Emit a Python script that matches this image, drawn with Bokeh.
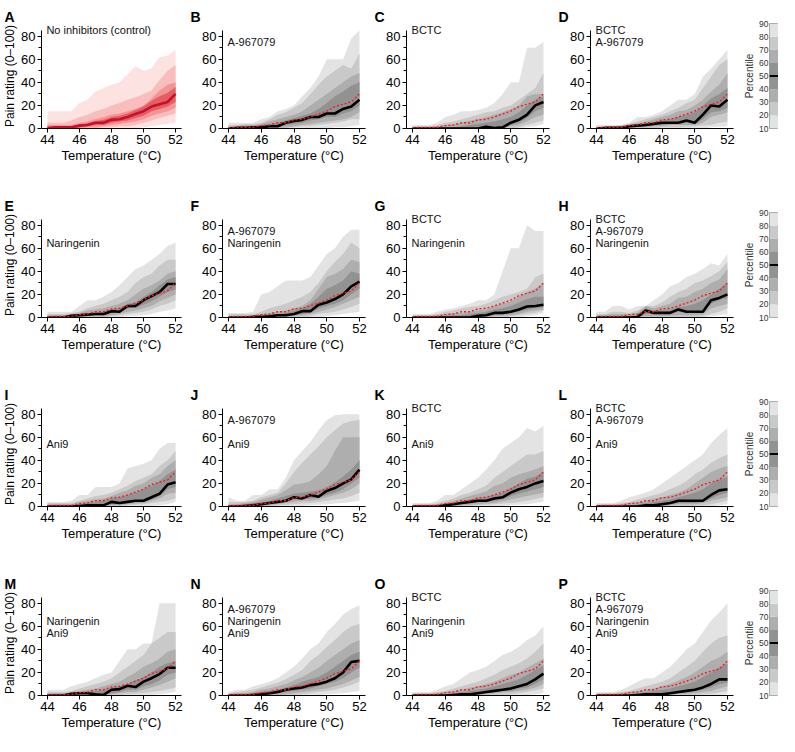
from bokeh.plotting import figure
from bokeh.layouts import column, row
from bokeh.models import Range1d, FixedTicker, Label, Span, Title
from bokeh.embed import file_html
from bokeh.resources import INLINE

FONT = "Liberation Sans"

temps = [44.0, 44.5, 45.0, 45.5, 46.0, 46.5, 47.0, 47.5, 48.0, 48.5, 49.0, 49.5, 50.0, 50.5, 51.0, 51.5, 52.0]

# percentile curves (10..90) per panel
A = dict(
    p10=[0, 0, 0, 0, 0, 0, 0, 0, 0, 0, 0, 0, 1, 2, 3, 4, 5],
    p20=[0, 0, 0, 0, 0, 0, 0, 1, 1, 2, 2, 3, 5, 7, 9, 11, 13],
    p30=[0, 0, 0, 0, 0, 1, 1, 2, 3, 4, 5, 6, 8, 11, 13, 15, 18],
    p40=[0, 0, 0, 0, 1, 2, 3, 3, 5, 6, 7, 9, 11, 15, 17, 19, 23],
    p50=[0.5, 1, 1, 1, 2.5, 3, 5, 5, 7.5, 8, 10, 12.5, 15, 19, 21, 23, 30],
    p60=[1, 1.5, 2, 2, 3.5, 4.5, 6.5, 7.5, 10, 11, 13, 16, 19, 24, 28, 31, 36],
    p70=[3, 3, 3, 3, 5, 6, 8, 10, 12, 13, 15, 17, 20, 26, 33, 38, 40],
    p80=[5, 5, 5, 7, 10, 12, 15, 17, 20, 22, 25, 27, 30, 33, 42, 50, 55],
    p90=[15, 15, 15, 15, 22, 25, 32, 35, 38, 40, 47, 54, 50, 52, 62, 63, 68],
)
B = dict(
    p10=[0, 0, 0, 0, 0, 0, 0, 0, 0, 0, 0, 0, 0, 1, 1, 2, 3],
    p20=[0, 0, 0, 0, 0, 0, 0, 0.5, 1, 2, 2, 3, 4, 5, 6, 8, 8],
    p30=[0, 0, 0, 0, 0, 0.5, 0.5, 1, 2, 3, 4, 5, 6, 7, 8, 10, 14],
    p40=[0, 0, 0, 0.5, 0.5, 1, 1, 3, 4, 5, 7, 8, 10, 10, 13, 15, 20],
    p50=[0, 0.5, 0.5, 1, 1, 2, 2, 5, 6.5, 7.5, 10, 10, 13, 13, 17, 19, 25],
    p60=[1, 1, 2, 2, 3, 4, 5, 7, 9, 11, 13, 17, 22, 28, 32, 37, 40],
    p70=[2, 2, 3, 3, 4, 6, 8, 10, 12, 15, 20, 25, 30, 35, 40, 45, 48],
    p80=[3, 3, 4, 4, 5, 8, 12, 14, 18, 22, 30, 38, 45, 50, 55, 52, 65],
    p90=[5, 5, 5, 5, 8, 10, 15, 17, 20, 28, 35, 45, 60, 60, 60, 78, 85],
)
C = dict(
    p10=[0, 0, 0, 0, 0, 0, 0, 0, 0, 0, 0, 0, 0, 0, 1, 2, 4],
    p20=[0, 0, 0, 0, 0, 0, 0, 0, 0, 0, 0, 0, 0, 1, 3, 5, 7],
    p30=[0, 0, 0, 0, 0, 0, 0, 0, 0, 0, 0, 0, 2, 3, 6, 10, 12],
    p40=[0, 0, 0, 0, 0, 0, 0, 0, 0, 1, 0, 0.5, 3, 5, 9, 15, 18],
    p50=[0, 0, 0, 0, 0, 0, 0, 0, 0, 1.5, 0.5, 1, 5, 7.5, 12, 20, 23],
    p60=[0.5, 0.5, 0.5, 0.5, 1, 1, 2, 3, 4, 5, 6, 8, 10, 14, 20, 25, 28],
    p70=[1, 1, 1, 2, 3, 4, 5, 7, 8, 10, 12, 14, 17, 20, 28, 30, 30],
    p80=[2, 2, 2, 3, 5, 6, 8, 10, 12, 14, 15, 18, 20, 25, 30, 35, 48],
    p90=[3, 3, 3, 5, 10, 12, 15, 15, 16, 18, 22, 30, 40, 40, 70, 70, 75],
)
D = dict(
    p10=[0, 0, 0, 0, 0, 0, 0, 0, 0, 0, 0, 0, 0, 0, 1, 1.5, 2],
    p20=[0, 0, 0, 0, 0, 0, 0, 0, 1, 1, 1, 1.5, 2, 2.5, 3, 5, 6],
    p30=[0, 0, 0, 0, 0, 1, 1, 2, 2, 3, 3, 3, 3, 5, 10, 12, 14],
    p40=[0, 0, 0, 0, 1, 1.5, 2, 3, 3, 4, 4, 5, 4, 8, 14, 15, 18],
    p50=[0, 0.5, 0.5, 0.5, 2, 2.5, 3, 4, 5, 5, 5, 7, 5, 12, 20, 19, 25],
    p60=[0.5, 1, 1, 1, 3, 3.5, 4.5, 5.5, 7, 8, 10, 12, 14, 20, 26, 30, 35],
    p70=[1, 1, 1, 2, 3.5, 4.5, 6, 8, 10, 12, 15, 16, 20, 25, 32, 38, 48],
    p80=[2, 2, 2, 3, 4, 6, 8, 10, 12, 15, 18, 22, 25, 35, 45, 55, 60],
    p90=[3, 3, 3, 3, 5, 10, 10, 12, 15, 20, 25, 25, 30, 45, 52, 60, 68],
)
E = dict(
    p10=[0, 0, 0, 0, 0, 0, 0, 0, 0, 0, 1, 1.5, 2, 3, 5, 6, 8],
    p20=[0, 0, 0, 0, 0, 0, 0, 0, 1, 2, 3, 4, 5, 7, 10, 12, 15],
    p30=[0, 0, 0, 0, 0, 1, 1, 1, 2, 3, 5, 6, 8, 10, 14, 17, 20],
    p40=[0, 0, 0, 0.5, 1, 2, 2, 2, 4, 4, 8, 8.5, 11, 14, 18, 22, 24],
    p50=[0, 0, 0, 1.5, 2, 2.5, 3, 3, 5.5, 5, 10, 10, 15, 18.5, 22, 29, 29],
    p60=[1, 1, 1, 2, 3, 4, 4, 5, 7, 8, 12, 13, 18, 22, 28, 33, 35],
    p70=[2, 2, 2, 3, 4, 6, 7, 8, 10, 12, 15, 20, 25, 28, 32, 38, 40],
    p80=[3, 3, 3, 4, 5, 8, 10, 12, 15, 18, 22, 30, 35, 38, 45, 50, 50],
    p90=[5, 5, 5, 5, 10, 15, 15, 18, 22, 28, 35, 42, 45, 50, 55, 62, 65],
)
F = dict(
    p10=[0, 0, 0, 0, 0, 0, 0, 0, 0, 0, 0, 0, 1, 2, 3, 4, 5],
    p20=[0, 0, 0, 0, 0, 0, 0, 0, 0, 0, 1, 3, 4, 5, 7, 9, 12],
    p30=[0, 0, 0, 0, 0, 0, 0, 0.5, 1, 2, 3, 5, 7, 9, 12, 15, 18],
    p40=[0, 0, 0, 0, 0, 0.5, 1, 1, 2, 3, 4, 8, 10, 12, 15, 20, 25],
    p50=[0, 0, 0, 0.5, 0.5, 1, 2, 2, 3, 5.5, 5.5, 11, 13, 16, 20, 27, 31],
    p60=[0.5, 0.5, 1, 1, 2, 2, 3, 4, 6, 8, 12, 18, 25, 28, 32, 40, 38],
    p70=[1, 1, 1, 2, 3, 4, 5, 6, 8, 10, 15, 25, 35, 38, 42, 50, 48],
    p80=[3, 3, 3, 3, 5, 8, 10, 12, 15, 18, 22, 30, 40, 48, 55, 65, 60],
    p90=[4, 4, 4, 5, 20, 22, 27, 32, 32, 32, 35, 45, 55, 60, 70, 76, 76],
)
G = dict(
    p10=[0, 0, 0, 0, 0, 0, 0, 0, 0, 0, 0, 0, 0, 0, 1, 2, 4],
    p20=[0, 0, 0, 0, 0, 0, 0, 0, 0, 0, 0, 0, 1, 2, 3, 4, 6],
    p30=[0, 0, 0, 0, 0, 0, 0, 0, 0, 0, 1, 1.5, 2, 3, 5, 6, 7],
    p40=[0, 0, 0, 0, 0, 0, 0, 0, 0.5, 1, 2.5, 3, 4, 5, 7, 8, 9],
    p50=[0, 0, 0, 0, 0, 0, 0, 0, 1.5, 2, 4, 4, 5, 7, 9.5, 10, 11],
    p60=[0.5, 0.5, 0.5, 1, 1, 2, 2, 3, 4, 5, 7, 8, 10, 13, 16, 18, 18],
    p70=[1, 1, 1, 2, 3, 4, 4, 5, 6, 7, 10, 12, 14, 18, 22, 25, 30],
    p80=[2, 2, 2, 3, 5, 6, 8, 9, 10, 12, 15, 18, 20, 22, 25, 35, 38],
    p90=[3, 3, 3, 5, 7, 8, 10, 12, 15, 15, 20, 40, 60, 60, 80, 75, 75],
)
H = dict(
    p10=[0, 0, 0, 0, 0, 0, 0, 0, 0, 0, 0, 0, 0, 0, 1, 2, 3],
    p20=[0, 0, 0, 0, 0, 0, 0, 0, 0, 0, 0, 0, 0, 1, 3, 5, 8],
    p30=[0, 0, 0, 0, 0, 0, 1, 1, 1, 1.5, 2, 2, 2, 2.5, 8, 10, 12],
    p40=[0, 0, 0, 0, 0, 0, 3, 3, 3, 3, 5, 4, 4, 4, 12, 15, 17],
    p50=[0, 0, 0, 0, 0, 0.5, 6, 4, 4, 4, 7, 5, 5, 5, 15, 17, 20],
    p60=[1, 1, 1, 1, 1, 2, 8, 6, 6, 7, 9, 10, 12, 15, 20, 25, 30],
    p70=[2, 2, 3, 3, 3, 4, 10, 8, 10, 12, 17, 18, 22, 25, 30, 33, 42],
    p80=[3, 3, 5, 5, 4, 6, 10, 10, 13, 18, 22, 25, 30, 32, 36, 40, 48],
    p90=[5, 5, 10, 10, 7, 10, 10, 15, 20, 27, 30, 35, 38, 42, 47, 45, 55],
)
I = dict(
    p10=[0, 0, 0, 0, 0, 0, 0, 0, 0, 0, 0, 0, 0, 0.5, 1, 2, 4],
    p20=[0, 0, 0, 0, 0, 0, 0, 0, 0, 0, 1, 1.5, 2, 3, 4, 5, 7],
    p30=[0, 0, 0, 0, 0, 0, 0, 0, 1, 1, 2, 2.5, 3, 5, 7, 11, 12],
    p40=[0, 0, 0, 0, 0, 0.5, 0.5, 0.5, 2, 2, 3, 4, 4, 6, 9, 15, 17],
    p50=[0, 0, 0, 0, 0.5, 1, 1, 1, 4, 3, 4, 5, 5, 8, 11, 19, 21],
    p60=[1, 1, 1, 1, 2, 3, 4, 5, 7, 8, 10, 12, 15, 18, 22, 28, 32],
    p70=[2, 2, 2, 2, 4, 5, 6, 7, 9, 12, 14, 18, 20, 25, 28, 35, 40],
    p80=[3, 3, 3, 3, 5, 7, 9, 10, 12, 15, 18, 22, 25, 28, 35, 40, 48],
    p90=[4, 4, 4, 5, 10, 10, 17, 17, 17, 20, 33, 35, 37, 40, 50, 55, 55],
)
J = dict(
    p10=[0, 0, 0, 0, 0, 0, 0, 0, 0, 0.5, 1, 1.5, 2, 2.5, 3, 4, 5],
    p20=[0, 0, 0, 0, 0, 0, 1, 1.5, 2, 2.5, 3, 4, 5, 6, 7, 9, 12],
    p30=[0, 0, 0, 0, 0.5, 1, 2, 3, 4, 5, 5, 6, 8, 10, 12, 15, 20],
    p40=[0, 0, 0, 0.5, 1, 2, 3, 4, 6, 6, 7, 7.5, 10, 12, 15, 20, 25],
    p50=[0, 0, 0.5, 1, 2, 3, 4, 5, 8, 7, 10, 8.5, 13.5, 16, 20, 23.5, 32],
    p60=[1, 1, 2, 3, 4, 5, 7, 9, 11, 12, 13, 14, 17, 21, 26, 32, 40],
    p70=[2, 2, 3, 4, 6, 8, 10, 14, 19, 20, 22, 28, 35, 48, 60, 60, 60],
    p80=[4, 4, 4, 5, 8, 10, 12, 20, 30, 38, 45, 52, 60, 66, 72, 74, 75],
    p90=[8, 5, 5, 10, 10, 15, 15, 25, 40, 48, 56, 66, 75, 79, 80, 80, 80],
)
K = dict(
    p10=[0, 0, 0, 0, 0, 0, 0, 0, 0, 0, 0, 0.5, 1, 1.5, 2, 3, 4],
    p20=[0, 0, 0, 0, 0, 0, 0, 0.5, 1, 1.5, 2, 2.5, 3, 4, 5, 6.5, 8],
    p30=[0, 0, 0, 0, 0, 0, 1, 1.5, 2, 2.5, 3, 4.5, 6, 7.5, 9, 10.5, 12],
    p40=[0, 0, 0, 0, 0.5, 1, 2, 3, 4, 4, 5, 6, 9, 11, 13, 15, 17],
    p50=[0, 0, 0, 0, 1, 2, 3, 4, 5, 5, 7, 8, 12, 15, 17, 20, 22],
    p60=[0.5, 0.5, 1, 1, 2, 3, 4, 6, 7, 8, 10, 12, 16, 20, 24, 26, 30],
    p70=[1, 1, 1, 2, 3, 5, 7, 9, 11, 13, 18, 20, 25, 28, 30, 32, 35],
    p80=[2, 2, 2, 3, 5, 7, 10, 12, 15, 18, 25, 30, 35, 40, 45, 45, 48],
    p90=[3, 3, 3, 5, 10, 10, 15, 20, 25, 32, 40, 50, 55, 60, 68, 65, 70],
)
L = dict(
    p10=[0, 0, 0, 0, 0, 0, 0, 0, 0, 0, 0, 0, 0, 0, 0, 1, 2],
    p20=[0, 0, 0, 0, 0, 0, 0, 0, 0, 0, 0, 0, 0.5, 1, 2, 3.5, 5],
    p30=[0, 0, 0, 0, 0, 0, 0, 0, 0, 1, 2, 2, 2, 3, 5, 6.5, 8],
    p40=[0, 0, 0, 0, 0, 0, 0.5, 0.5, 1, 2, 3, 3, 3, 4, 7, 10, 12],
    p50=[0, 0, 0, 0, 0, 0, 1, 1, 2, 3, 5, 5, 5, 5, 10, 14, 15],
    p60=[0.5, 0.5, 0.5, 1, 1, 2, 3, 4, 5, 6, 8, 10, 12, 15, 20, 23, 26],
    p70=[1, 1, 1, 2, 3, 4, 5, 7, 8, 10, 12, 15, 20, 25, 30, 33, 35],
    p80=[2, 2, 2, 3, 4, 6, 8, 10, 12, 15, 18, 22, 28, 32, 38, 42, 45],
    p90=[3, 3, 3, 5, 8, 10, 12, 15, 20, 25, 30, 35, 40, 45, 55, 62, 68],
)
M = dict(
    p10=[0, 0, 0, 0, 0, 0, 0, 0, 0, 0, 0, 0, 0, 0.5, 1, 2, 3],
    p20=[0, 0, 0, 0, 0, 0, 0, 0, 0, 0.5, 1, 1.5, 2, 3, 4, 5.5, 7],
    p30=[0, 0, 0, 0, 0.5, 1, 0, 0, 1, 2, 3, 3, 5, 7, 9, 12, 15],
    p40=[0, 0, 0, 0.5, 1, 1.5, 0.5, 0, 2, 3, 5, 5, 8, 10, 13, 18, 20],
    p50=[0, 0, 0, 1.5, 2, 2, 1, 0.5, 5, 5.5, 8.5, 7.3, 12, 15, 18.6, 24, 24],
    p60=[1, 1, 1, 2, 3, 3, 4, 5, 7, 8, 10, 13, 16, 20, 25, 28, 30],
    p70=[2, 2, 2, 3, 4, 5, 6, 8, 10, 12, 16, 20, 25, 28, 32, 38, 40],
    p80=[3, 3, 3, 4, 6, 8, 10, 12, 15, 20, 25, 30, 35, 45, 50, 55, 55],
    p90=[5, 5, 5, 8, 10, 12, 15, 18, 20, 30, 40, 40, 45, 45, 80, 80, 80],
)
N = dict(
    p10=[0, 0, 0, 0, 0, 0, 0, 0, 0, 0, 0, 0.5, 1, 1.5, 2, 3, 4],
    p20=[0, 0, 0, 0, 0, 0, 0, 0, 0.5, 1, 2, 3, 4, 5, 7, 9, 12],
    p30=[0, 0, 0, 0, 0, 0, 0.5, 1, 2, 3, 4, 5, 6, 8, 10, 13, 16],
    p40=[0, 0, 0, 0, 0.5, 1, 2, 3, 4, 5, 6, 8, 10, 12, 15, 20, 24],
    p50=[0, 0, 0, 0.5, 1, 2, 3, 5, 6, 7, 9, 10, 12, 15, 20, 29, 30],
    p60=[0.5, 1, 1, 2, 3, 4, 5, 7, 9, 12, 14, 16, 20, 25, 30, 35, 38],
    p70=[1, 2, 2, 3, 5, 6, 8, 10, 13, 16, 20, 24, 30, 35, 40, 45, 48],
    p80=[2, 3, 4, 5, 7, 9, 11, 14, 18, 22, 30, 35, 42, 48, 55, 60, 62],
    p90=[3, 5, 5, 8, 10, 12, 15, 20, 25, 32, 40, 45, 55, 62, 70, 75, 78],
)
O = dict(
    p10=[0, 0, 0, 0, 0, 0, 0, 0, 0, 0, 0, 0, 0, 0, 0.5, 1, 2],
    p20=[0, 0, 0, 0, 0, 0, 0, 0, 0, 0, 0, 0.5, 1, 2, 3, 4.5, 6],
    p30=[0, 0, 0, 0, 0, 0, 0, 0, 0.5, 1, 2, 2.5, 3, 4, 5, 7, 10],
    p40=[0, 0, 0, 0, 0, 0, 0.5, 0.5, 1, 2, 3, 4, 4, 6, 7, 10, 14],
    p50=[0, 0, 0, 0, 0, 0.5, 1, 1, 2, 3, 4, 5, 6, 8, 10, 14, 19],
    p60=[0.5, 0.5, 0.5, 1, 1, 2, 3, 4, 5, 6, 8, 10, 12, 14, 18, 22, 26],
    p70=[1, 1, 1, 2, 3, 4, 5, 7, 8, 10, 12, 15, 18, 20, 24, 28, 32],
    p80=[2, 2, 2, 3, 4, 6, 8, 10, 12, 15, 18, 22, 25, 28, 32, 38, 45],
    p90=[3, 3, 3, 5, 8, 10, 15, 20, 22, 25, 30, 35, 38, 42, 48, 52, 60],
)
P = dict(
    p10=[0, 0, 0, 0, 0, 0, 0, 0, 0, 0, 0, 0, 0, 0, 0, 0.5, 1],
    p20=[0, 0, 0, 0, 0, 0, 0, 0, 0, 0, 0, 0, 0.5, 1, 1.5, 2.5, 4],
    p30=[0, 0, 0, 0, 0, 0, 0, 0, 0, 0.5, 1, 1.5, 2, 3, 4, 6, 8],
    p40=[0, 0, 0, 0, 0, 0, 0.5, 0.5, 0.5, 1, 2, 3, 4, 5, 7, 10, 11],
    p50=[0, 0, 0, 0, 0, 0.5, 1, 1, 1, 2, 3, 4, 5, 7, 10, 14, 14],
    p60=[0.5, 0.5, 0.5, 1, 1, 2, 3, 4, 5, 6, 8, 10, 12, 16, 20, 24, 28],
    p70=[1, 1, 1, 2, 3, 4, 5, 6, 8, 10, 13, 16, 20, 25, 30, 33, 38],
    p80=[2, 2, 2, 3, 4, 6, 8, 10, 12, 15, 20, 25, 30, 38, 45, 50, 52],
    p90=[3, 3, 3, 5, 8, 12, 15, 15, 20, 25, 32, 40, 45, 55, 65, 72, 80],
)

inhibitors = ["BCTC", "A-967079", "Naringenin", "Ani9"]
panel_letters = ["A", "B", "C", "D", "E", "F", "G", "H", "I", "J", "K", "L", "M", "N", "O", "P"]
panel_data = [A, B, C, D, E, F, G, H, I, J, K, L, M, N, O, P]
panel_flags = [
    [0, 0, 0, 0], [0, 1, 0, 0], [1, 0, 0, 0], [1, 1, 0, 0],
    [0, 0, 1, 0], [0, 1, 1, 0], [1, 0, 1, 0], [1, 1, 1, 0],
    [0, 0, 0, 1], [0, 1, 0, 1], [1, 0, 0, 1], [1, 1, 0, 1],
    [0, 0, 1, 1], [0, 1, 1, 1], [1, 0, 1, 1], [1, 1, 1, 1],
]
control_text = "No inhibitors (control)"

y_ticks = [0, 20, 40, 60, 80]
y_minor = [10, 30, 50, 70]
x_ticks = [44, 46, 48, 50, 52]

legend_lo = [10, 20, 30, 40, 50, 60, 70, 80]
legend_hi = [20, 30, 40, 50, 60, 70, 80, 90]
legend_layer = [0, 1, 2, 3, 3, 2, 1, 0]
legend_ticks = [10, 20, 30, 40, 50, 60, 70, 80, 90]
legend_median = 50

GREYS = ["#e3e3e3", "#c9c9c9", "#aeaeae", "#929292"]
REDS = ["#fde2e2", "#f9bdbd", "#f29595", "#e65e62"]

X0, X1 = 43.63, 52.37
Y0, Y1 = 0, 91          # frame range (axis line drawn only to 85)
AXIS_TOP = 85
FRAME_W = 143
FRAME_H = 112
PX_PER_UNIT = FRAME_H / (Y1 - Y0)
TOP = 16
BOTTOM_MID = 61
BOTTOM_LAST = 40
RIGHT = 8
TOTAL_W = 778


def style_axes(p, col):
    for ax in (p.xaxis, p.yaxis):
        ax.axis_line_color = "black"
        ax.axis_line_width = 1
        ax.major_tick_line_color = "black"
        ax.minor_tick_line_color = "black"
        ax.major_tick_in = 0
        ax.major_tick_out = 4
        ax.minor_tick_in = 0
        ax.major_label_text_font = FONT
        ax.major_label_text_font_size = "13px"
        ax.major_label_text_color = "black"
        ax.major_label_standoff = 2
        ax.axis_label_text_font = FONT
        ax.axis_label_text_font_size = "13px"
        ax.axis_label_text_font_style = "normal"
        ax.axis_label_text_color = "black"
        ax.axis_label_standoff = 1
    p.yaxis.axis_label_text_font_size = "12px"
    p.xaxis.ticker = FixedTicker(ticks=x_ticks)
    p.xaxis.minor_tick_out = 0
    p.yaxis.ticker = FixedTicker(ticks=y_ticks, minor_ticks=y_minor)
    p.yaxis.minor_tick_out = 3
    p.yaxis.bounds = (0, AXIS_TOP)
    p.xaxis.axis_label = "Temperature (°C)"
    if col == 0:
        p.yaxis.axis_label = "Pain rating (0–100)"


def make_panel(idx, r, c):
    left = 38 if c == 0 else 33
    bottom = BOTTOM_MID if r < 3 else BOTTOM_LAST
    p = figure(width=left + FRAME_W + RIGHT, height=TOP + FRAME_H + bottom,
               x_range=Range1d(X0, X1), y_range=Range1d(Y0, Y1),
               output_backend="svg", toolbar_location=None, title=None,
               min_border_left=left, min_border_right=RIGHT,
               min_border_top=TOP, min_border_bottom=bottom)
    p.outline_line_color = None
    p.grid.visible = False
    p.background_fill_color = "white"
    p.border_fill_color = "white"
    d = panel_data[idx]
    control = idx == 0
    cols = REDS if control else GREYS
    pairs = [("p10", "p90"), ("p20", "p80"), ("p30", "p70"), ("p40", "p60")]
    for k, (lo, hi) in enumerate(pairs):
        p.varea(x=temps, y1=d[lo], y2=d[hi], fill_color=cols[k])
    if control:
        p.line(temps, d["p50"], line_color="#c8102e", line_width=2.6)
    else:
        p.line(temps, d["p50"], line_color="black", line_width=2.6)
        p.line(temps, A["p50"], line_color="#ff1a1a", line_width=1.4, line_dash="2 2")
    style_axes(p, c)
    # panel letter as a title shifted into the left margin
    p.add_layout(Title(text=panel_letters[idx], align="left", offset=-(left - 1),
                       standoff=-2, text_font=FONT, text_font_size="14px",
                       text_font_style="bold", text_color="black"), "above")
    if control:
        lines = [control_text, "", "", ""]
    else:
        lines = [name if f else "" for name, f in zip(inhibitors, panel_flags[idx])]
    for k, t in enumerate(lines):
        if t:
            p.add_layout(Label(x=44, y=AXIS_TOP, x_offset=-1, y_offset=-12 * k, text=t,
                               text_font=FONT, text_font_size="11px",
                               text_baseline="middle", text_align="left",
                               text_color="#111111"))
    return p


def make_legend(r, width):
    bottom = BOTTOM_MID if r < 3 else BOTTOM_LAST
    height = TOP + FRAME_H + bottom
    extra_top = round((Y1 - AXIS_TOP) * PX_PER_UNIT)
    fh = round(AXIS_TOP * PX_PER_UNIT)
    lg = figure(width=width, height=height,
                x_range=Range1d(0, 1), y_range=Range1d(10, 90),
                output_backend="svg", toolbar_location=None, title=None,
                min_border_left=width - 13, min_border_right=0,
                min_border_top=TOP + extra_top, min_border_bottom=height - TOP - extra_top - fh)
    lg.grid.visible = False
    lg.xaxis.visible = False
    lg.outline_line_color = "#9a9a9a"
    lg.outline_line_width = 1
    lg.quad(left=0, right=1, bottom=legend_lo, top=legend_hi,
            fill_color=[GREYS[k] for k in legend_layer], line_color=None)
    lg.add_layout(Span(location=legend_median, dimension="width", line_color="black", line_width=2))
    ax = lg.yaxis
    ax.ticker = FixedTicker(ticks=legend_ticks)
    ax.axis_line_color = None
    ax.major_tick_line_color = None
    ax.minor_tick_line_color = None
    ax.major_tick_out = 0
    ax.major_tick_in = 0
    ax.minor_tick_out = 0
    ax.minor_tick_in = 0
    ax.major_label_text_font = FONT
    ax.major_label_text_font_size = "8.5px"
    ax.major_label_text_color = "#333333"
    ax.major_label_standoff = 1
    ax.axis_label = "Percentile"
    ax.axis_label_text_font = FONT
    ax.axis_label_text_font_size = "10px"
    ax.axis_label_text_font_style = "normal"
    ax.axis_label_text_color = "#333333"
    ax.axis_label_standoff = 1
    return lg


rows = []
for r in range(4):
    figs = [make_panel(r * 4 + c, r, c) for c in range(4)]
    used = sum(f.width for f in figs)
    figs.append(make_legend(r, TOTAL_W - used))
    rows.append(row(*figs))

layout = column(*rows)
open("out.html", "w").write(file_html(layout, INLINE))
